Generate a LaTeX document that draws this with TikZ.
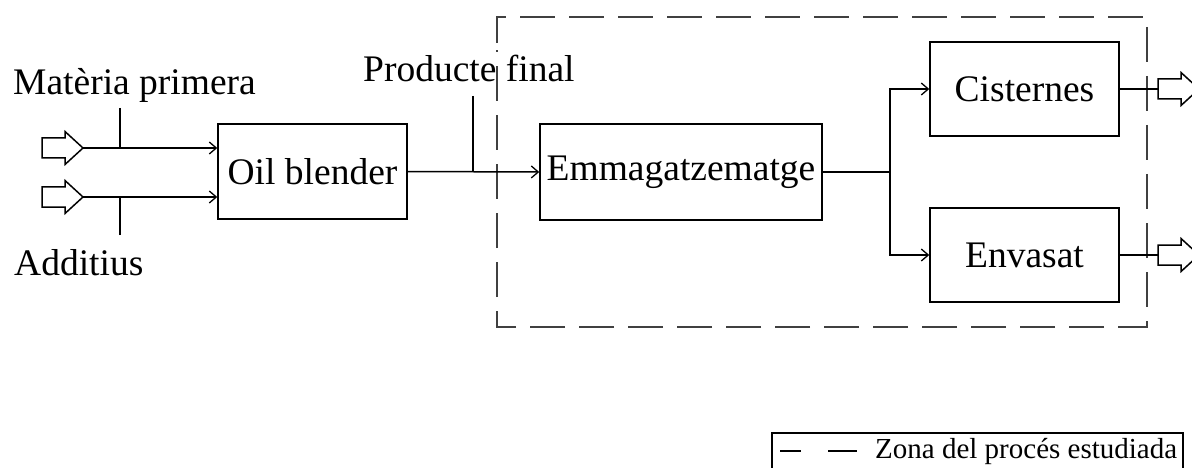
\documentclass[tikz,border=0pt]{standalone}
\usepackage{fontspec}
\setmainfont{Liberation Serif}
\usetikzlibrary{arrows.meta}

\tikzset{
  flowbox/.style={draw, line width=1.5pt, inner sep=0pt, font=\fontsize{37.5}{44}\selectfont},
  flowline/.style={line width=1.5pt},
  flowarrow/.style={line width=1.5pt, -{Straight Barb[length=7pt,width=12pt,line width=1.3pt]}},
  blockarrow/.style={draw, line width=1.5pt, line join=miter, fill=white},
  label/.style={inner sep=0pt, font=\fontsize{37.5}{44}\selectfont},
  zone/.style={draw=black!75, line width=1.9pt, dash pattern=on 35pt off 14pt, dash phase=42pt},
  legendtext/.style={inner sep=0pt, font=\fontsize{29}{34}\selectfont},
}

\begin{document}
\begin{tikzpicture}[x=1pt, y=-1pt]
\useasboundingbox (0,0) rectangle (1192,468);

% process boxes
\node[flowbox, minimum width=189pt, minimum height=95pt] (blender) at (312.5,171.5) {Oil blender};
\node[flowbox, minimum width=282pt, minimum height=96pt] (storage) at (681,172) {Emmagatzematge};
\node[flowbox, minimum width=189pt, minimum height=94pt] (tanks) at (1024.5,89) {Cisternes};
\node[flowbox, minimum width=189pt, minimum height=94pt] (pack) at (1024.5,255) {Envasat};

% studied zone
\draw[zone] (497,50) -- (497,17) -- (1147,17) -- (1147,327) -- (497,327) -- cycle;

% inputs
\coordinate (in1) at (83,148);
\coordinate (in2) at (83,197);
\foreach \p in {in1,in2}{
  \draw[blockarrow] (\p) -- ++(-18,-16.5) -- ++(0,6.5) -- ++(-23,0) -- ++(0,20)
    -- ++(23,0) -- ++(0,6.5) -- cycle;
}
\draw[flowarrow] (in1) -- (blender.west |- in1);
\draw[flowarrow] (in2) -- (blender.west |- in2);

\coordinate (t1) at (120,108);
\coordinate (t2) at (120,235);
\draw[flowline] (t1) -- (t1 |- in1);
\draw[flowline] (t2) -- (t2 |- in2);

\node[label, anchor=base west] (rawlab) at (13,95) {Matèria primera};
\node[label, anchor=base west] (addlab) at (14,275) {Additius};

% blender to storage
\draw[flowarrow] (blender.east) -- (storage.west);
\coordinate (t3) at (473,96);
\draw[flowline] (t3) -- (t3 |- blender.east);
\node[label, anchor=base west] (prodlab) at (363,82) {Producte final};

% split to tanks and packaging
\coordinate (split) at (890,172);
\draw[flowline] (storage.east) -- (split);
\draw[flowarrow] (split) -- (split |- tanks.west) -- (tanks.west);
\draw[flowarrow] (split) -- (split |- pack.west) -- (pack.west);

% outputs
\coordinate (out1) at (1158,89);
\coordinate (out2) at (1158,255);
\draw[flowline] (tanks.east) -- (out1);
\draw[flowline] (pack.east) -- (out2);
\foreach \p in {out1,out2}{
  \draw[blockarrow] (\p) -- ++(0,-10) -- ++(23,0) -- ++(0,-6.5) -- ++(18,16.5)
    -- ++(-18,16.5) -- ++(0,-6.5) -- ++(-23,0) -- cycle;
}

% legend
\draw[line width=1.3pt] (772,433) rectangle (1183,480);
\coordinate (ls) at (780,451);
\coordinate (le) at (857,451);
\draw[line width=1.5pt, dash pattern=on 21pt off 27pt on 29pt off 10pt] (ls) -- (le);
\node[legendtext, anchor=base west] (legend) at (875,458) {Zona del procés estudiada};
\end{tikzpicture}
\end{document}
